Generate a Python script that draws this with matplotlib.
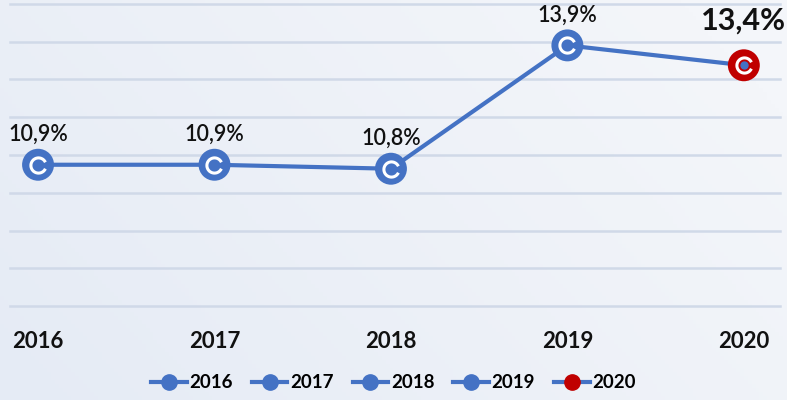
import numpy as np
import matplotlib.pyplot as plt
from matplotlib.lines import Line2D
from matplotlib.path import Path

years = ["2016", "2017", "2018", "2019", "2020"]
values = [10.9, 10.9, 10.8, 13.9, 13.4]
labels = ["10,9%", "10,9%", "10,8%", "13,9%", "13,4%"]
point_colors = ["#4472c4", "#4472c4", "#4472c4", "#4472c4", "#c00000"]

blue = "#4472c4"
plt.rcParams["font.family"] = ["Lato", "DejaVu Sans"]

fig = plt.figure(figsize=(7.87, 4.0), dpi=100)

# soft diagonal background gradient
bg = fig.add_axes([0, 0, 1, 1], zorder=-10)
gx, gy = np.meshgrid(np.linspace(0, 1, 200), np.linspace(0, 1, 100))
t = np.clip(0.75 * gx + 0.35 * (1 - gy), 0, 1)
c0 = np.array([229, 235, 245]) / 255
c1 = np.array([244, 246, 250]) / 255
img = c0[None, None, :] * (1 - t[..., None]) + c1[None, None, :] * t[..., None]
bg.imshow(img, aspect="auto", extent=[0, 1, 0, 1], origin="upper")
bg.axis("off")

W, H = 787, 400
ax = fig.add_axes([10 / W, 1 - 306 / H, 770 / W, 302 / H])
ax.patch.set_alpha(0)
x = np.arange(len(years))
ax.set_xlim(-0.159, 4.205)
ymin, ymax = 7.35, 14.94
ax.set_ylim(ymin, ymax)

for gy_ in np.linspace(ymin, ymax, 9):
    ax.axhline(gy_, color="#d0d9e8", lw=1.8, zorder=0, clip_on=False)

ax.plot(x, values, color=blue, lw=3, zorder=2)
ax.scatter(x, values, s=23 ** 2, c=point_colors, zorder=3, linewidths=0)
ring = Path.arc(25, 335)
ax.plot(x, values, ls="none", marker=ring, markersize=11, markerfacecolor="none",
        markeredgecolor="white", mew=2.2, zorder=4)
ax.plot(x[-1:], values[-1:], ls="none", marker="o", markersize=5, color=blue, zorder=5)

for i, (xi, v, lab) in enumerate(zip(x, values, labels)):
    if i == len(x) - 1:
        ax.annotate(lab, (xi, v), xytext=(0, 32), textcoords="offset points",
                    ha="center", va="center", fontsize=22, fontweight="bold", color="#111111")
    else:
        ax.annotate(lab, (xi, v), xytext=(0, 22), textcoords="offset points",
                    ha="center", va="center", fontsize=15.5, fontweight="semibold",
                    color="#111111")

ax.set_xticks(x)
ax.set_xticklabels(years, fontsize=16, fontweight="bold", color="#111111")
ax.tick_params(axis="x", length=0, pad=18)
ax.set_yticks([])
for s in ax.spines.values():
    s.set_visible(False)

handles = [Line2D([], [], color=blue, lw=3, marker="o", markersize=11,
                  markerfacecolor=c, markeredgecolor=c) for c in point_colors]
fig.legend(handles, years, loc="center", bbox_to_anchor=(0.5, 1 - 383 / H), ncol=5,
           frameon=False, handlelength=1.9, handletextpad=0.15,
           columnspacing=1.0, prop={"size": 13.5, "weight": "bold"})

fig.savefig("out.png", dpi=100)
